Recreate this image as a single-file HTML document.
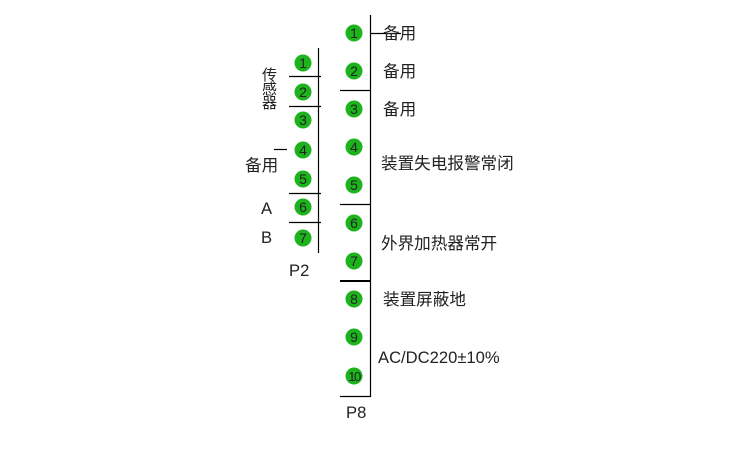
<!DOCTYPE html>
<html><head><meta charset="utf-8"><style>
html,body{margin:0;padding:0;background:#fff;}
svg{display:block;}
text{font-family:"Liberation Sans","Noto Sans CJK SC",sans-serif;fill:#222;}
.n{font-size:14px;fill:#000;text-anchor:middle;}
.l{font-size:16.6px;}
</style></head><body>
<svg width="750" height="454" viewBox="0 0 750 454" xmlns="http://www.w3.org/2000/svg">
<g stroke="#000" stroke-width="1.2">
<line x1="370.5" y1="15" x2="370.5" y2="397"/>
<line x1="340" y1="90.5" x2="371" y2="90.5"/>
<line x1="340" y1="204.5" x2="371" y2="204.5"/>
<line x1="340" y1="281" x2="371" y2="281" stroke-width="2"/>
<line x1="340" y1="396.5" x2="371" y2="396.5"/>
<line x1="371" y1="33.5" x2="401" y2="33.5"/>
<line x1="318.5" y1="48" x2="318.5" y2="253"/>
<line x1="289" y1="76.5" x2="321" y2="76.5"/>
<line x1="289" y1="106.5" x2="321" y2="106.5"/>
<line x1="289" y1="193.5" x2="321" y2="193.5"/>
<line x1="289" y1="222.5" x2="321" y2="222.5"/>
<line x1="274" y1="149.5" x2="287" y2="149.5"/>
</g>
<g fill="#1db31d">
<circle cx="354" cy="33" r="8.5"/><circle cx="354" cy="71" r="8.5"/><circle cx="354" cy="109" r="8.5"/>
<circle cx="354" cy="147" r="8.5"/><circle cx="354" cy="185" r="8.5"/><circle cx="354" cy="223" r="8.5"/>
<circle cx="354" cy="261" r="8.5"/><circle cx="354" cy="299" r="8.5"/><circle cx="354" cy="337" r="8.5"/>
<circle cx="354" cy="376" r="8.5"/>
<circle cx="303" cy="63" r="8.5"/><circle cx="303" cy="92" r="8.5"/><circle cx="303" cy="120" r="8.5"/>
<circle cx="303" cy="150" r="8.5"/><circle cx="303" cy="179" r="8.5"/><circle cx="303" cy="207" r="8.5"/>
<circle cx="303" cy="238" r="8.5"/>
</g>
<g class="n">
<text x="354" y="38">1</text><text x="354" y="76">2</text><text x="354" y="114">3</text>
<text x="354" y="152">4</text><text x="354" y="190">5</text><text x="354" y="228">6</text>
<text x="354" y="266">7</text><text x="354" y="304">8</text><text x="354" y="342">9</text>
<text x="354" y="381" style="letter-spacing:-1.5px;font-size:13px">10</text>
<text x="303" y="68">1</text><text x="303" y="97">2</text><text x="303" y="125">3</text>
<text x="303" y="155">4</text><text x="303" y="184">5</text><text x="303" y="212">6</text>
<text x="303" y="243">7</text>
</g>
<g class="l">
<text x="383" y="39">备用</text>
<text x="383" y="77">备用</text>
<text x="383" y="115">备用</text>
<text x="381" y="169">装置失电报警常闭</text>
<text x="381" y="249">外界加热器常开</text>
<text x="383" y="305">装置屏蔽地</text>
<text x="378" y="363">AC/DC220±10%</text>
<text x="346" y="418">P8</text>
<text x="289" y="276">P2</text>
<text x="245" y="171">备用</text>
<text x="261" y="214">A</text>
<text x="261" y="243">B</text>
</g>
<g style="font-size:15px">
<text x="262" y="80">传</text>
<text x="262" y="94">感</text>
<text x="262" y="108">器</text>
</g>
</svg>
</body></html>
